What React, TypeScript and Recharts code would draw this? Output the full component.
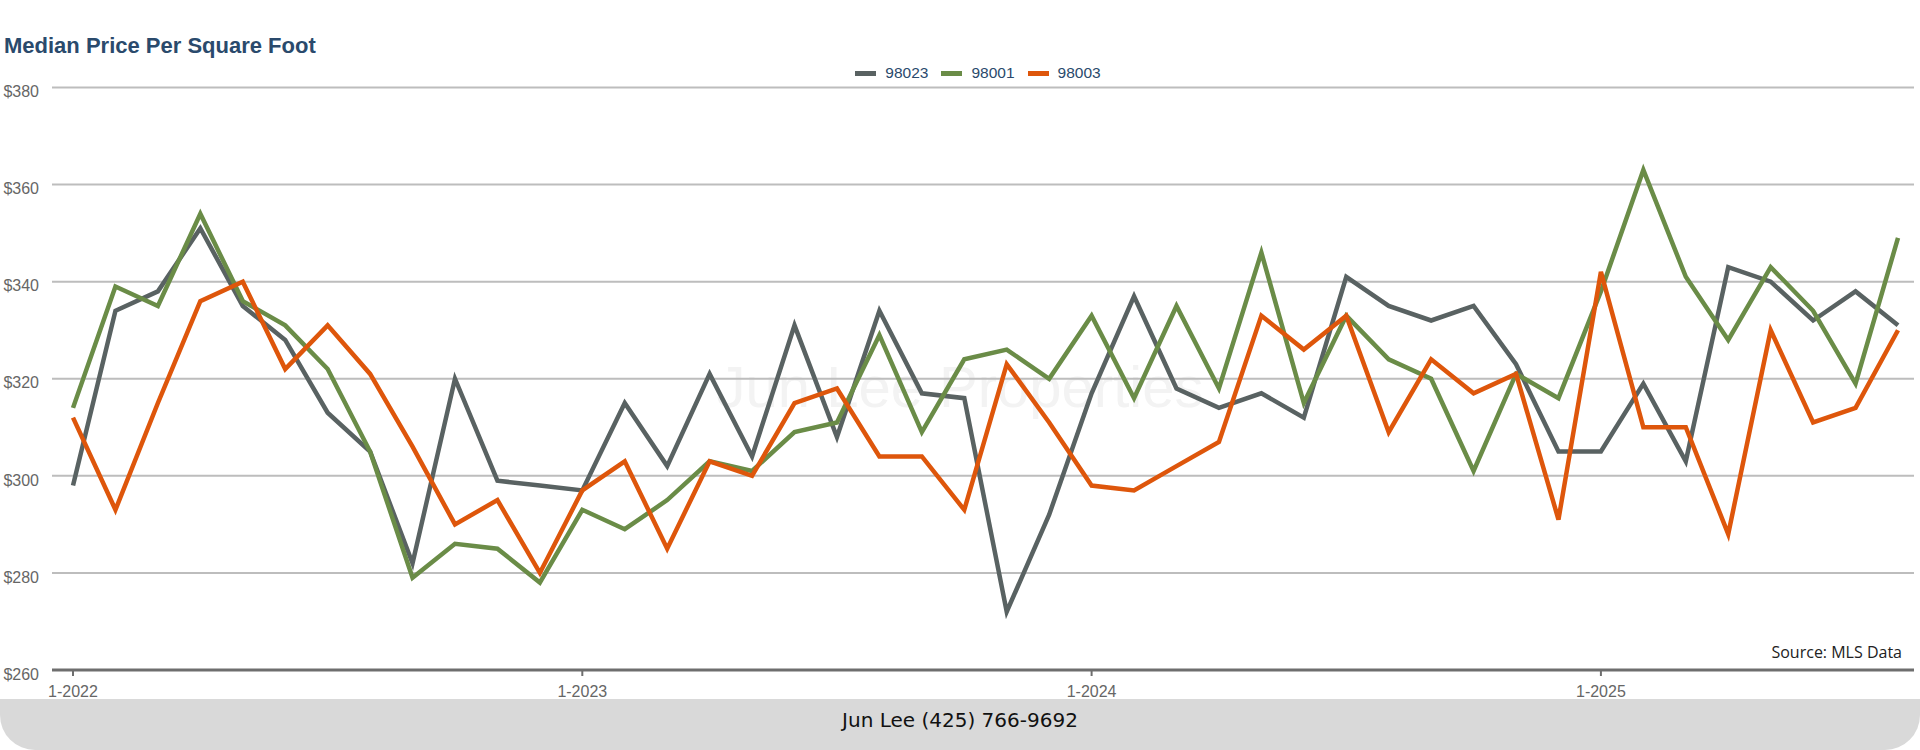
import React from 'react';
import { LineChart, Line, XAxis, YAxis, CartesianGrid, Legend } from 'recharts';

const months = [
  '1-2022', '2-2022', '3-2022', '4-2022', '5-2022', '6-2022', '7-2022', '8-2022', '9-2022', '10-2022', '11-2022', '12-2022',
  '1-2023', '2-2023', '3-2023', '4-2023', '5-2023', '6-2023', '7-2023', '8-2023', '9-2023', '10-2023', '11-2023', '12-2023',
  '1-2024', '2-2024', '3-2024', '4-2024', '5-2024', '6-2024', '7-2024', '8-2024', '9-2024', '10-2024', '11-2024', '12-2024',
  '1-2025', '2-2025', '3-2025', '4-2025', '5-2025', '6-2025', '7-2025', '8-2025',
];

const xTickLabels = ['1-2022', '1-2023', '1-2024', '1-2025'];
const yTicks = [260, 280, 300, 320, 340, 360, 380];

const series98023 = [298, 334, 338, 351, 335, 328, 313, 305, 282, 320, 299, 298, 297, 315, 302, 321, 304, 331, 308, 334, 317, 316, 272, 292, 317, 337, 318, 314, 317, 312, 341, 335, 332, 335, 323, 305, 305, 319, 303, 343, 340, 332, 338, 331];
const series98001 = [314, 339, 335, 354, 336, 331, 322, 305, 279, 286, 285, 278, 293, 289, 295, 303, 301, 309, 311, 329, 309, 324, 326, 320, 333, 316, 335, 318, 346, 315, 333, 324, 320, 301, 321, 316, 338, 363, 341, 328, 343, 334, 319, 349];
const series98003 = [312, 293, 315, 336, 340, 322, 331, 321, 306, 290, 295, 280, 297, 303, 285, 303, 300, 315, 318, 304, 304, 293, 323, 311, 298, 297, 302, 307, 333, 326, 333, 309, 324, 317, 321, 291, 342, 310, 310, 288, 330, 311, 314, 330];

const seriesNames = ['98023', '98001', '98003'];
const seriesColors = ['#596262', '#6A8C47', '#DE560B'];

const data = months.map((m, i) => ({
  idx: i,
  month: m,
  '98023': series98023[i],
  '98001': series98001[i],
  '98003': series98003[i],
}));

const xTickIdx = xTickLabels.map((l) => months.indexOf(l));

const SANS = "'Liberation Sans', Arial, Helvetica, sans-serif";

const XTick = (props: any) => {
  const { x, y, payload } = props;
  return (
    <text x={x} y={y} dy={19} textAnchor="middle" fill="#666666" fontSize={16} fontFamily={SANS}>
      {months[payload.value]}
    </text>
  );
};

const YTick = (props: any) => {
  const { x, y, payload } = props;
  return (
    <text x={x} y={y + 4} dy="0.355em" textAnchor="end" fill="#666666" fontSize={16} fontFamily={SANS}>
      {'$' + payload.value}
    </text>
  );
};

const renderLegend = () => (
  <div style={{ display: 'flex', justifyContent: 'center', alignItems: 'center', height: 20 }}>
    {seriesNames.map((n, i) => (
      <div key={n} style={{ display: 'flex', alignItems: 'center', marginLeft: i === 0 ? 0 : 13 }}>
        <span style={{ display: 'inline-block', width: 21, height: 5, background: seriesColors[i], marginRight: 9 }} />
        <span style={{ fontSize: 15.5, color: '#2A4A6C', fontFamily: SANS, lineHeight: '20px' }}>{n}</span>
      </div>
    ))}
  </div>
);

export default function App() {
  return (
    <div style={{ position: 'absolute', left: 0, top: 0, width: 1920, height: 750, background: '#ffffff', overflow: 'hidden' }}>
      <div
        style={{
          position: 'absolute', left: 0, top: 358, width: 1920, textAlign: 'center',
          fontSize: 58, lineHeight: '58px', fontFamily: SANS, color: '#F3F3F3',
        }}
      >
        Jun Lee Properties
      </div>
      <div
        style={{
          position: 'absolute', left: 4, top: 35.4, fontSize: 22, lineHeight: '22px', fontWeight: 'bold',
          fontFamily: SANS, color: '#2A4A6C', whiteSpace: 'nowrap',
        }}
      >
        Median Price Per Square Foot
      </div>
      <div style={{ position: 'absolute', left: 0, top: 0 }}>
        <LineChart width={1920} height={750} data={data} margin={{ top: 87.5, right: 6, bottom: 50, left: 0 }}>
          <CartesianGrid vertical={false} stroke="#BDBDBD" strokeWidth={2} />
          <XAxis
            type="number"
            dataKey="idx"
            domain={[-0.495, 43.377]}
            allowDataOverflow
            ticks={xTickIdx}
            interval={0}
            tick={(p: any) => <XTick {...p} />}
            axisLine={{ stroke: '#6E6E6E', strokeWidth: 3 }}
            tickLine={{ stroke: '#6E6E6E', strokeWidth: 2 }}
            tickSize={6}
            height={30}
          />
          <YAxis
            domain={[260, 380]}
            ticks={yTicks}
            interval={0}
            axisLine={false}
            tickLine={false}
            tickSize={0}
            tickMargin={13}
            width={52}
            tick={(p: any) => <YTick {...p} />}
          />
          <Legend
            layout="horizontal"
            verticalAlign="middle"
            align="center"
            content={renderLegend}
            wrapperStyle={{ top: 63, left: 52, width: 1852, height: 20 }}
          />
          {seriesNames.map((n, i) => (
            <Line
              key={n}
              type="linear"
              dataKey={n}
              stroke={seriesColors[i]}
              strokeWidth={4.5}
              dot={false}
              activeDot={false}
              isAnimationActive={false}
            />
          ))}
        </LineChart>
      </div>
      <div
        style={{
          position: 'absolute', right: 18, top: 643.5, fontSize: 16, lineHeight: '16px',
          fontFamily: "'Open Sans', 'Noto Sans', sans-serif", color: '#222222', whiteSpace: 'nowrap',
        }}
      >
        Source: MLS Data
      </div>
      <div
        style={{
          position: 'absolute', left: 0, top: 699, width: 1920, height: 51, background: '#D9D9D9',
          borderBottomLeftRadius: 35, borderBottomRightRadius: 35,
        }}
      >
        <div
          style={{
            position: 'absolute', left: 0, top: 11.4, width: 1920, textAlign: 'center', fontSize: 20,
            lineHeight: '20px', fontFamily: "'DejaVu Sans', Verdana, sans-serif", color: '#111111',
          }}
        >
          Jun Lee (425) 766-9692
        </div>
      </div>
    </div>
  );
}
